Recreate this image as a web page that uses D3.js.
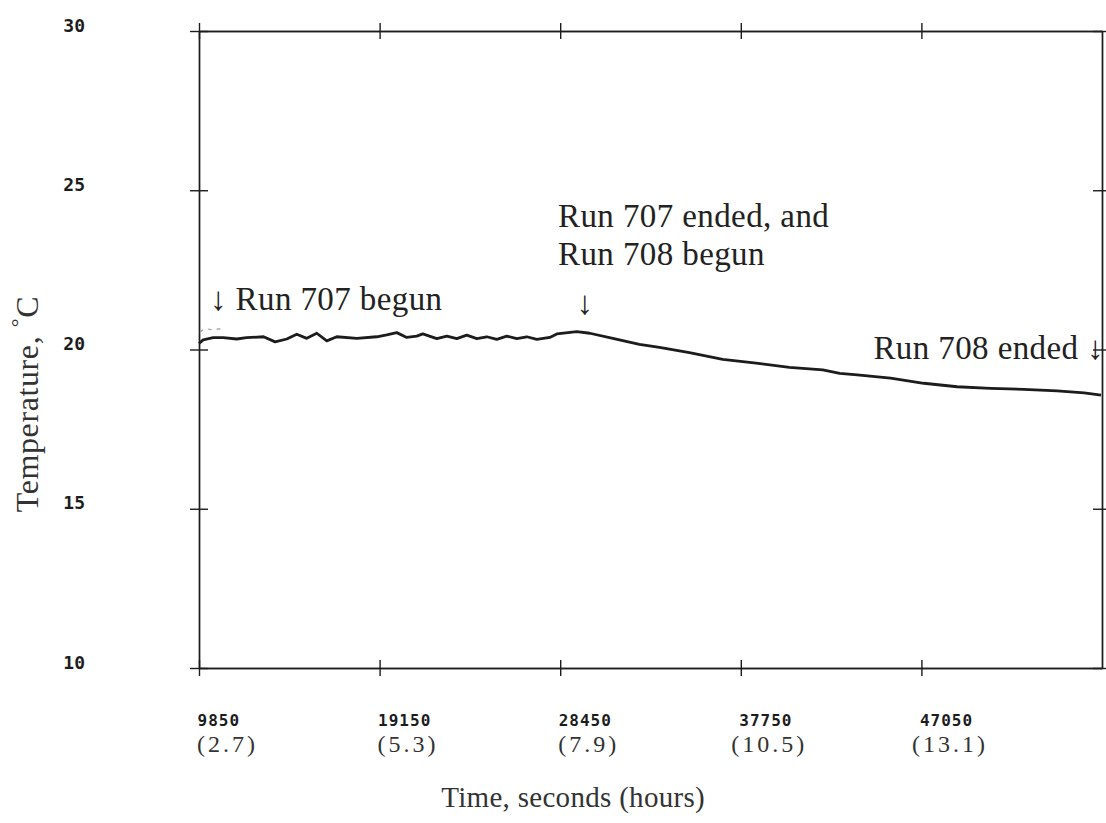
<!DOCTYPE html>
<html>
<head>
<meta charset="utf-8">
<script src="https://cdn.jsdelivr.net/npm/d3@7"></script>
<style>
  html, body { margin: 0; padding: 0; background: #fff; }
  svg { display: block; }
</style>
</head>
<body>
<div id="chart"></div>
<script>
// temperature record, runs 707 / 708
var timeSec = [9850, 10065, 10580, 11095, 11790, 12300, 13175, 13770, 14370, 14885,
    15400, 15915, 16430, 16945, 17975, 19005, 19520, 20035, 20550, 21065,
    21375, 22095, 22610, 23125, 23640, 24155, 24670, 25185, 25700, 26215,
    26730, 27245, 27915, 28275, 29305, 29975, 31160, 32530, 33560, 35105,
    36820, 38540, 40255, 41970, 42845, 43745, 45460, 47175, 48890, 50610,
    52325, 54040, 55430, 56300];
var tempC = [20.19, 20.30, 20.37, 20.37, 20.33, 20.37, 20.40, 20.24, 20.33, 20.48,
    20.35, 20.51, 20.27, 20.40, 20.35, 20.40, 20.46, 20.53, 20.38, 20.42,
    20.49, 20.34, 20.42, 20.34, 20.45, 20.34, 20.40, 20.32, 20.42, 20.34,
    20.40, 20.32, 20.38, 20.49, 20.56, 20.51, 20.35, 20.16, 20.07, 19.90,
    19.69, 19.57, 19.44, 19.36, 19.25, 19.20, 19.10, 18.94, 18.83, 18.78,
    18.75, 18.70, 18.64, 18.57];
// faint broken trace at the very start
var ghostTime = [9900, 10150, 10500, 10950];
var ghostTemp = [20.55, 20.66, 20.62, 20.65];

var xTicks = [9850, 19150, 28450, 37750, 47050];
var hourLabels = ['(2.7)', '(5.3)', '(7.9)', '(10.5)', '(13.1)'];
var yTicks = [10, 15, 20, 25, 30];

var eventTimes = [10780, 29730, 56300];
var eventLabels = ['\u2193 Run 707 begun', '\u2193', 'Run 708 ended \u2193'];
var eventNote = ['Run 707 ended, and', 'Run 708 begun'];

var width = 1106, height = 823;
var margin = { top: 31, right: 4, bottom: 155, left: 199 };
var ink = '#1c1c1c';
var serif = '"Liberation Serif", "Times New Roman", serif';
var mono = '"DejaVu Sans Mono", monospace';

var svg = d3.select('#chart').append('svg')
    .attr('width', width)
    .attr('height', height)
    .style('background', '#fff');

var x = d3.scaleLinear().domain([9850, 56350]).range([margin.left, width - margin.right]);
var y = d3.scaleLinear().domain([10, 30]).range([height - margin.bottom, margin.top]);

function styleAxis(g) {
    g.selectAll('path.domain').attr('stroke', ink).attr('stroke-width', 1.4);
    g.selectAll('.tick line').attr('stroke', ink).attr('stroke-width', 1.4);
}

// crossing ticks: each side drawn twice, once per direction
var x0 = x.range()[0], x1 = x.range()[1];
var y0 = y.range()[0], y1 = y.range()[1];

svg.append('g').attr('transform', 'translate(0,' + y0 + ')')
    .call(d3.axisTop(x).tickValues(xTicks).tickSize(8).tickSizeOuter(0).tickFormat(''))
    .call(styleAxis);
var bottom = svg.append('g').attr('transform', 'translate(0,' + y0 + ')')
    .call(d3.axisBottom(x).tickValues(xTicks).tickSize(8).tickSizeOuter(0).tickFormat(d3.format('d')))
    .call(styleAxis);
svg.append('g').attr('transform', 'translate(0,' + y1 + ')')
    .call(d3.axisTop(x).tickValues(xTicks).tickSize(8).tickSizeOuter(0).tickFormat(''))
    .call(styleAxis);
svg.append('g').attr('transform', 'translate(0,' + y1 + ')')
    .call(d3.axisBottom(x).tickValues(xTicks).tickSize(8).tickSizeOuter(0).tickFormat(''))
    .call(styleAxis);

var left = svg.append('g').attr('transform', 'translate(' + x0 + ',0)')
    .call(d3.axisLeft(y).tickValues(yTicks).tickSize(9).tickPadding(105).tickSizeOuter(0).tickFormat(d3.format('d')))
    .call(styleAxis);
svg.append('g').attr('transform', 'translate(' + x0 + ',0)')
    .call(d3.axisRight(y).tickValues(yTicks).tickSize(9).tickSizeOuter(0).tickFormat(''))
    .call(styleAxis);
svg.append('g').attr('transform', 'translate(' + x1 + ',0)')
    .call(d3.axisLeft(y).tickValues(yTicks).tickSize(9).tickSizeOuter(0).tickFormat(''))
    .call(styleAxis);
svg.append('g').attr('transform', 'translate(' + x1 + ',0)')
    .call(d3.axisRight(y).tickValues(yTicks).tickSize(9).tickSizeOuter(0).tickFormat(''))
    .call(styleAxis);

left.selectAll('.tick text')
    .attr('dy', 0)
    .attr('fill', ink)
    .style('font-family', mono)
    .style('font-weight', 'bold')
    .style('font-size', '18px');

bottom.selectAll('.tick text')
    .attr('dy', null)
    .attr('y', 58)
    .attr('x', -2)
    .attr('text-anchor', 'start')
    .attr('fill', ink)
    .style('font-family', mono)
    .style('font-weight', 'bold')
    .style('font-size', '16px')
    .style('letter-spacing', '1px');

bottom.selectAll('.tick').append('text')
    .attr('x', 28)
    .attr('y', 84)
    .attr('text-anchor', 'middle')
    .attr('fill', '#333')
    .style('font-family', serif)
    .style('font-size', '24px')
    .style('letter-spacing', '3px')
    .text(function (d, i) { return hourLabels[i]; });

// data
var line = d3.line()
    .x(function (d) { return x(d[0]); })
    .y(function (d) { return y(d[1]); });

svg.append('path')
    .datum(d3.zip(ghostTime, ghostTemp))
    .attr('d', line)
    .attr('fill', 'none')
    .attr('stroke', '#999')
    .attr('stroke-width', 1.2)
    .attr('stroke-dasharray', '4 5');

svg.append('path')
    .datum(d3.zip(timeSec, tempC))
    .attr('d', line)
    .attr('fill', 'none')
    .attr('stroke', ink)
    .attr('stroke-width', 2.8)
    .attr('stroke-linejoin', 'round');

// annotations
function note(txt, px, py, anchor) {
    svg.append('text')
        .attr('x', px)
        .attr('y', py)
        .attr('text-anchor', anchor || 'start')
        .attr('fill', '#222')
        .style('font-family', serif)
        .style('font-size', '33px')
        .style('letter-spacing', '0.4px')
        .text(txt);
}
note(eventLabels[0], x(eventTimes[0]) - 7, 310);
note(eventLabels[1], x(eventTimes[1]), 314, 'middle');
note(eventNote[0], x(eventTimes[1]) - 27, 227);
note(eventNote[1], x(eventTimes[1]) - 27, 265);
note(eventLabels[2], width - 2, 359, 'end');

// axis titles
svg.append('text')
    .attr('x', 705)
    .attr('y', 807)
    .attr('text-anchor', 'end')
    .attr('fill', '#333')
    .style('font-family', serif)
    .style('font-size', '29px')
    .style('letter-spacing', '0.3px')
    .text('Time, seconds (hours)');

var yTitle = svg.append('text')
    .attr('transform', 'translate(38,404) rotate(-90)')
    .attr('text-anchor', 'middle')
    .attr('fill', '#333')
    .style('font-family', serif)
    .style('font-size', '32px')
    .style('letter-spacing', '0.6px');
yTitle.append('tspan').text('Temperature, ');
yTitle.append('tspan').attr('dy', -12).style('font-size', '22px').text('\u00b0');
yTitle.append('tspan').attr('dy', 12).text('C');
</script>
</body>
</html>
